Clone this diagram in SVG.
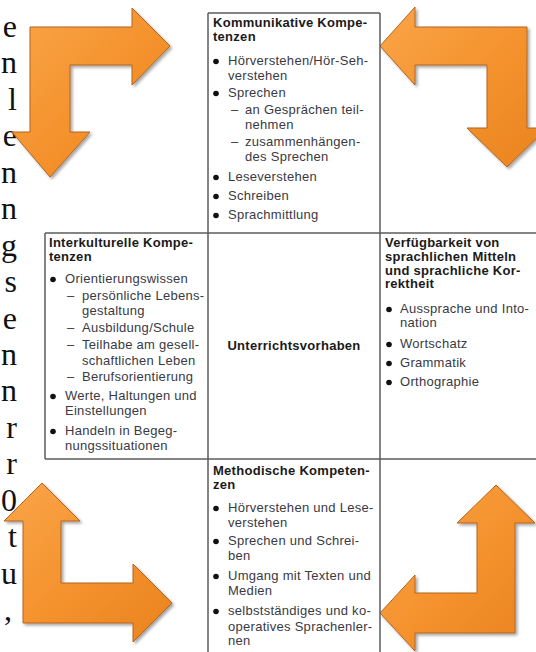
<svg xmlns="http://www.w3.org/2000/svg" width="536" height="652" viewBox="0 0 536 652">
<defs>
<style>
.h{font-family:"Liberation Sans",Arial,sans-serif;font-size:13px;font-weight:bold;fill:#1a1a1a;letter-spacing:0.28px}
.t{font-family:"Liberation Sans",Arial,sans-serif;font-size:13px;fill:#3a3a44;letter-spacing:0.28px}
.c{text-anchor:middle}
.s{font-family:"Liberation Serif","Times New Roman",serif;font-size:32px;fill:#111;text-anchor:end}
.b{fill:#111}
.ln{stroke:#5c5c5c;stroke-width:1.5;fill:none}
.arr{fill:url(#og);stroke:#b4651f;stroke-width:1;stroke-linejoin:miter;filter:url(#sh)}
</style>
<linearGradient id="og" x1="0" y1="0" x2="1" y2="1">
<stop offset="0" stop-color="#f9a54a"/>
<stop offset="0.5" stop-color="#f5932e"/>
<stop offset="1" stop-color="#e9831f"/>
</linearGradient>
<filter id="sh" x="-10%" y="-10%" width="130%" height="130%">
<feDropShadow dx="2" dy="2" stdDeviation="1.8" flood-color="#000" flood-opacity="0.35"/>
</filter>
</defs>
<rect width="536" height="652" fill="#fff"/>

<g id="side-text">
<text class="s" x="17" y="37">e</text>
<text class="s" x="17" y="73.4">n</text>
<text class="s" x="17" y="109.9">l</text>
<text class="s" x="17" y="146.3">e</text>
<text class="s" x="17" y="182.8">n</text>
<text class="s" x="17" y="219.2">n</text>
<text class="s" x="17" y="255.6">g</text>
<text class="s" x="17" y="292.1">s</text>
<text class="s" x="17" y="328.5">e</text>
<text class="s" x="17" y="365">n</text>
<text class="s" x="17" y="401.4">n</text>
<text class="s" x="17" y="437.8">r</text>
<text class="s" x="17" y="474.3">r</text>
<text class="s" x="17" y="510.7">0</text>
<text class="s" x="17" y="547.2">t</text>
<text class="s" x="17" y="583.6">u</text>
<text class="s" x="12" y="620">,</text>
</g>

<g id="connectors">
<path id="arrow-tl" class="arr" d="M30,27 H132 V8 L170,46 L132,85 V65 H70 V132 H90 L50,177 L12,132 H30 Z"/>
<path id="arrow-tr" class="arr" d="M527,27 H415 V7 L380,46 L415,85 V65 H487 V128 H467 L507,167 L547,128 H527 Z"/>
<path id="arrow-bl" class="arr" d="M23,623 V521 H4 L42,483 L80,521 H61 V583 H133 V564 L172,603 L133,642 V623 Z"/>
<path id="arrow-br" class="arr" d="M515,633 V523 H535 L496,485 L457,523 H477 V593 H415 V575 L380,613 L415,651 V633 Z"/>
</g>

<g id="grid">
<path class="ln" d="M208,13 H380 M45,233 H536 M45,459 H536 M208,13 V652 M380,13 V652 M45,233 V459"/>
</g>

<g id="kommunikative">
<text class="h" x="213" y="27">Kommunikative Kompe-</text>
<text class="h" x="213" y="41">tenzen</text>
<circle class="b" cx="216" cy="61.5" r="2.8"/>
<text class="t" x="228" y="65">Hörverstehen/Hör-Seh-</text>
<text class="t" x="228" y="80">verstehen</text>
<circle class="b" cx="216" cy="93.5" r="2.8"/>
<text class="t" x="228" y="97">Sprechen</text>
<text class="t" x="231" y="114">–</text>
<text class="t" x="245" y="114">an Gesprächen teil-</text>
<text class="t" x="245" y="129">nehmen</text>
<text class="t" x="231" y="146">–</text>
<text class="t" x="245" y="146">zusammenhängen-</text>
<text class="t" x="245" y="161">des Sprechen</text>
<circle class="b" cx="216" cy="177.5" r="2.8"/>
<text class="t" x="228" y="181">Leseverstehen</text>
<circle class="b" cx="216" cy="196.5" r="2.8"/>
<text class="t" x="228" y="200">Schreiben</text>
<circle class="b" cx="216" cy="215.5" r="2.8"/>
<text class="t" x="228" y="219">Sprachmittlung</text>
</g>

<g id="interkulturelle">
<text class="h" x="49" y="247">Interkulturelle Kompe-</text>
<text class="h" x="49" y="261">tenzen</text>
<circle class="b" cx="53" cy="279.5" r="2.8"/>
<text class="t" x="65" y="283">Orientierungswissen</text>
<text class="t" x="67" y="300">–</text>
<text class="t" x="82" y="300">persönliche Lebens-</text>
<text class="t" x="82" y="315">gestaltung</text>
<text class="t" x="67" y="332">–</text>
<text class="t" x="82" y="332">Ausbildung/Schule</text>
<text class="t" x="67" y="349">–</text>
<text class="t" x="82" y="349">Teilhabe am gesell-</text>
<text class="t" x="82" y="365">schaftlichen Leben</text>
<text class="t" x="67" y="381">–</text>
<text class="t" x="82" y="381">Berufsorientierung</text>
<circle class="b" cx="53" cy="396.5" r="2.8"/>
<text class="t" x="65" y="400">Werte, Haltungen und</text>
<text class="t" x="65" y="415">Einstellungen</text>
<circle class="b" cx="53" cy="431.5" r="2.8"/>
<text class="t" x="65" y="435">Handeln in Begeg-</text>
<text class="t" x="65" y="450">nungssituationen</text>
</g>

<g id="unterrichtsvorhaben">
<text class="h c" x="294" y="350">Unterrichtsvorhaben</text>
</g>

<g id="verfuegbarkeit">
<text class="h" x="385" y="247">Verfügbarkeit von</text>
<text class="h" x="385" y="261">sprachlichen Mitteln</text>
<text class="h" x="385" y="274.5">und sprachliche Kor-</text>
<text class="h" x="385" y="288">rektheit</text>
<circle class="b" cx="389" cy="309.5" r="2.8"/>
<text class="t" x="400" y="313">Aussprache und Into-</text>
<text class="t" x="400" y="327">nation</text>
<circle class="b" cx="389" cy="344.5" r="2.8"/>
<text class="t" x="400" y="348">Wortschatz</text>
<circle class="b" cx="389" cy="363.5" r="2.8"/>
<text class="t" x="400" y="367">Grammatik</text>
<circle class="b" cx="389" cy="382.5" r="2.8"/>
<text class="t" x="400" y="386">Orthographie</text>
</g>

<g id="methodische">
<text class="h" x="213" y="475">Methodische Kompeten-</text>
<text class="h" x="213" y="489">zen</text>
<circle class="b" cx="216" cy="508.5" r="2.8"/>
<text class="t" x="228" y="512">Hörverstehen und Lese-</text>
<text class="t" x="228" y="527">verstehen</text>
<circle class="b" cx="216" cy="541.5" r="2.8"/>
<text class="t" x="228" y="545">Sprechen und Schrei-</text>
<text class="t" x="228" y="560">ben</text>
<circle class="b" cx="216" cy="576.5" r="2.8"/>
<text class="t" x="228" y="580">Umgang mit Texten und</text>
<text class="t" x="228" y="595">Medien</text>
<circle class="b" cx="216" cy="611.5" r="2.8"/>
<text class="t" x="228" y="615">selbstständiges und ko-</text>
<text class="t" x="228" y="631">operatives Sprachenler-</text>
<text class="t" x="228" y="645">nen</text>
</g>
</svg>
